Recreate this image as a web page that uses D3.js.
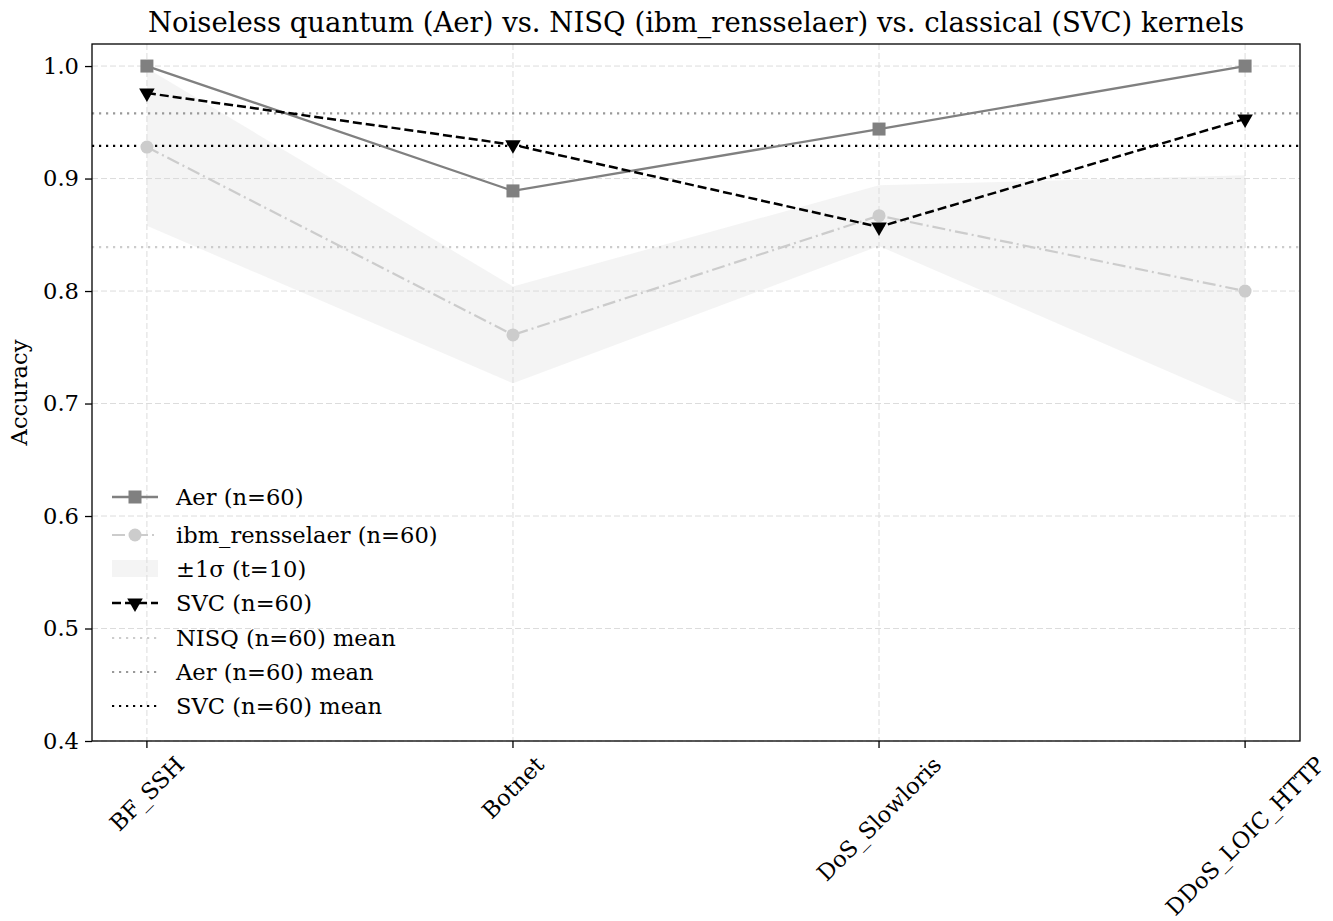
<!DOCTYPE html>
<html>
<head>
<meta charset="utf-8">
<script src="https://cdn.jsdelivr.net/npm/d3@7"></script>
<style>
  body { margin: 0; background: #fff; }
  svg text { font-family: "DejaVu Serif", serif; fill: #000; }
</style>
</head>
<body>
<svg id="chart" width="1333" height="921"></svg>
<script>
// data
const categories = ["BF_SSH", "Botnet", "DoS_Slowloris", "DDoS_LOIC_HTTP"];
const aerAcc = [1.0, 0.889, 0.944, 1.0];
const nisqAcc = [0.928, 0.761, 0.867, 0.800];
const nisqLow = [0.858, 0.718, 0.840, 0.699];
const nisqHigh = [0.998, 0.804, 0.894, 0.903];
const svcAcc = [0.976, 0.930, 0.857, 0.953];
const meanNames = ["NISQ (n=60) mean", "Aer (n=60) mean", "SVC (n=60) mean"];
const meanValues = [0.839, 0.958, 0.929];
const yTicks = [0.4, 0.5, 0.6, 0.7, 0.8, 0.9, 1.0];

let svg = d3.select("#chart");
let plotL = 92, plotR = 1300, plotT = 44, plotB = 741;
let fs = 22.6;

let x = d3.scaleLinear().domain([-0.15, categories.length - 1 + 0.15]).range([plotL, plotR]);
let y = d3.scaleLinear().domain([0.4, 1.0196]).range([plotB, plotT]);

const aerColor = "#808080", nisqColor = "#cccccc", svcColor = "#000000";
const meanColors = ["#cccccc", "#999999", "#000000"];

// grid
svg.append("g").selectAll("line").data(yTicks).enter().append("line")
  .attr("x1", plotL).attr("x2", plotR)
  .attr("y1", d => y(d)).attr("y2", d => y(d))
  .style("stroke", "#dcdcdc").style("stroke-width", 1).style("stroke-dasharray", "6,3");

// band
let area = d3.area().x((d, i) => x(i)).y0((d, i) => y(nisqLow[i])).y1((d, i) => y(nisqHigh[i]));
svg.append("path").datum(categories).attr("d", area)
  .style("fill", "#d6d6d6").style("fill-opacity", 0.28);

svg.append("g").selectAll("line").data(categories).enter().append("line")
  .attr("x1", (d, i) => x(i)).attr("x2", (d, i) => x(i))
  .attr("y1", plotT).attr("y2", plotB)
  .style("stroke", "#dcdcdc").style("stroke-width", 1).style("stroke-dasharray", "6,3");

// mean lines
svg.append("g").selectAll("line").data(meanValues).enter().append("line")
  .attr("x1", plotL).attr("x2", plotR)
  .attr("y1", d => y(d)).attr("y2", d => y(d))
  .style("stroke", (d, i) => meanColors[i]).style("stroke-width", 2.2)
  .style("stroke-dasharray", "2.2,4.8");

let line = d3.line().x((d, i) => x(i)).y(d => y(d));

// NISQ line
svg.append("path").datum(nisqAcc).attr("d", line)
  .style("fill", "none").style("stroke", nisqColor).style("stroke-width", 2.2)
  .style("stroke-dasharray", "13,4,2,4");
svg.append("g").selectAll("circle").data(nisqAcc).enter().append("circle")
  .attr("cx", (d, i) => x(i)).attr("cy", d => y(d)).attr("r", 6.5)
  .style("fill", nisqColor);

// Aer line
svg.append("path").datum(aerAcc).attr("d", line)
  .style("fill", "none").style("stroke", aerColor).style("stroke-width", 2.3);
svg.append("g").selectAll("rect").data(aerAcc).enter().append("rect")
  .attr("x", (d, i) => x(i) - 6.5).attr("y", d => y(d) - 6.5)
  .attr("width", 13).attr("height", 13)
  .style("fill", aerColor);

// SVC line
let tri = d3.symbol().type(d3.symbolTriangle).size(105);
svg.append("path").datum(svcAcc).attr("d", line)
  .style("fill", "none").style("stroke", svcColor).style("stroke-width", 2.5)
  .style("stroke-dasharray", "9,4");
svg.append("g").selectAll("path").data(svcAcc).enter().append("path")
  .attr("d", tri)
  .attr("transform", (d, i) => "translate(" + x(i) + "," + y(d) + ") rotate(180)")
  .style("fill", svcColor);

// frame
svg.append("rect").attr("x", plotL).attr("y", plotT)
  .attr("width", plotR - plotL).attr("height", plotB - plotT)
  .style("fill", "none").style("stroke", "#000").style("stroke-width", 1.3);

// y axis
let yAxis = svg.append("g")
  .attr("transform", "translate(" + plotL + ",0)")
  .call(d3.axisLeft(y).tickValues(yTicks).tickFormat(d3.format(".1f")).tickSize(7).tickPadding(6))
  .call(g => g.select(".domain").remove());
yAxis.selectAll("text").style("font-size", fs + "px").style("font-family", "DejaVu Serif");
yAxis.selectAll("line").style("stroke", "#000").style("stroke-width", 1.3);

svg.append("text")
  .attr("transform", "translate(27," + ((plotT + plotB) / 2) + ") rotate(-90)")
  .attr("text-anchor", "middle")
  .style("font-size", fs + "px")
  .text("Accuracy");

// x axis ticks and rotated labels
let xg = svg.append("g");
xg.selectAll("line").data(categories).enter().append("line")
  .attr("x1", (d, i) => x(i)).attr("x2", (d, i) => x(i))
  .attr("y1", plotB).attr("y2", plotB + 7)
  .style("stroke", "#000").style("stroke-width", 1.3);
xg.selectAll("text").data(categories).enter().append("text")
  .attr("text-anchor", "middle")
  .attr("dy", "0.35em")
  .style("font-size", fs + "px")
  .text(d => d)
  .each(function(d, i) {
    let w = this.getComputedTextLength();
    let h = fs * 0.95;
    let half = (w + h) * Math.SQRT1_2 / 2;
    d3.select(this).attr("transform",
      "translate(" + x(i) + "," + (plotB + 12 + half) + ") rotate(-45)");
  });

// title
svg.append("text")
  .attr("x", (plotL + plotR) / 2).attr("y", 32)
  .attr("text-anchor", "middle")
  .style("font-size", "27.5px")
  .text("Noiseless quantum (Aer) vs. NISQ (ibm_rensselaer) vs. classical (SVC) kernels");

// legend
let lx = 112, lw = 46, tx = 176;
let ly = [497, 535, 569, 603, 638, 672, 706];
let legend = svg.append("g");
function legText(yy, s) {
  legend.append("text").attr("x", tx).attr("y", yy).attr("dy", "0.35em")
    .style("font-size", fs + "px").text(s);
}
// Aer
legend.append("line").attr("x1", lx).attr("x2", lx + lw).attr("y1", ly[0]).attr("y2", ly[0])
  .style("stroke", aerColor).style("stroke-width", 2.3);
legend.append("rect").attr("x", lx + lw / 2 - 6.5).attr("y", ly[0] - 6.5).attr("width", 13).attr("height", 13)
  .style("fill", aerColor);
legText(ly[0], "Aer (n=60)");
// NISQ
legend.append("line").attr("x1", lx).attr("x2", lx + lw).attr("y1", ly[1]).attr("y2", ly[1])
  .style("stroke", nisqColor).style("stroke-width", 2.2).style("stroke-dasharray", "13,4,2,4");
legend.append("circle").attr("cx", lx + lw / 2).attr("cy", ly[1]).attr("r", 6.5).style("fill", nisqColor);
legText(ly[1], "ibm_rensselaer (n=60)");
// band
legend.append("rect").attr("x", lx).attr("y", ly[2] - 9).attr("width", lw).attr("height", 17)
  .style("fill", "#d6d6d6").style("fill-opacity", 0.28);
legText(ly[2], "\u00b11\u03c3 (t=10)");
// SVC
legend.append("line").attr("x1", lx).attr("x2", lx + lw).attr("y1", ly[3]).attr("y2", ly[3])
  .style("stroke", svcColor).style("stroke-width", 2.5).style("stroke-dasharray", "9,4");
legend.append("path").attr("d", tri)
  .attr("transform", "translate(" + (lx + lw / 2) + "," + ly[3] + ") rotate(180)")
  .style("fill", svcColor);
legText(ly[3], "SVC (n=60)");
// means
meanNames.forEach((name, i) => {
  legend.append("line").attr("x1", lx).attr("x2", lx + lw).attr("y1", ly[4 + i]).attr("y2", ly[4 + i])
    .style("stroke", meanColors[i]).style("stroke-width", 2.2).style("stroke-dasharray", "2.2,4.8");
  legText(ly[4 + i], name);
});
</script>
</body>
</html>
